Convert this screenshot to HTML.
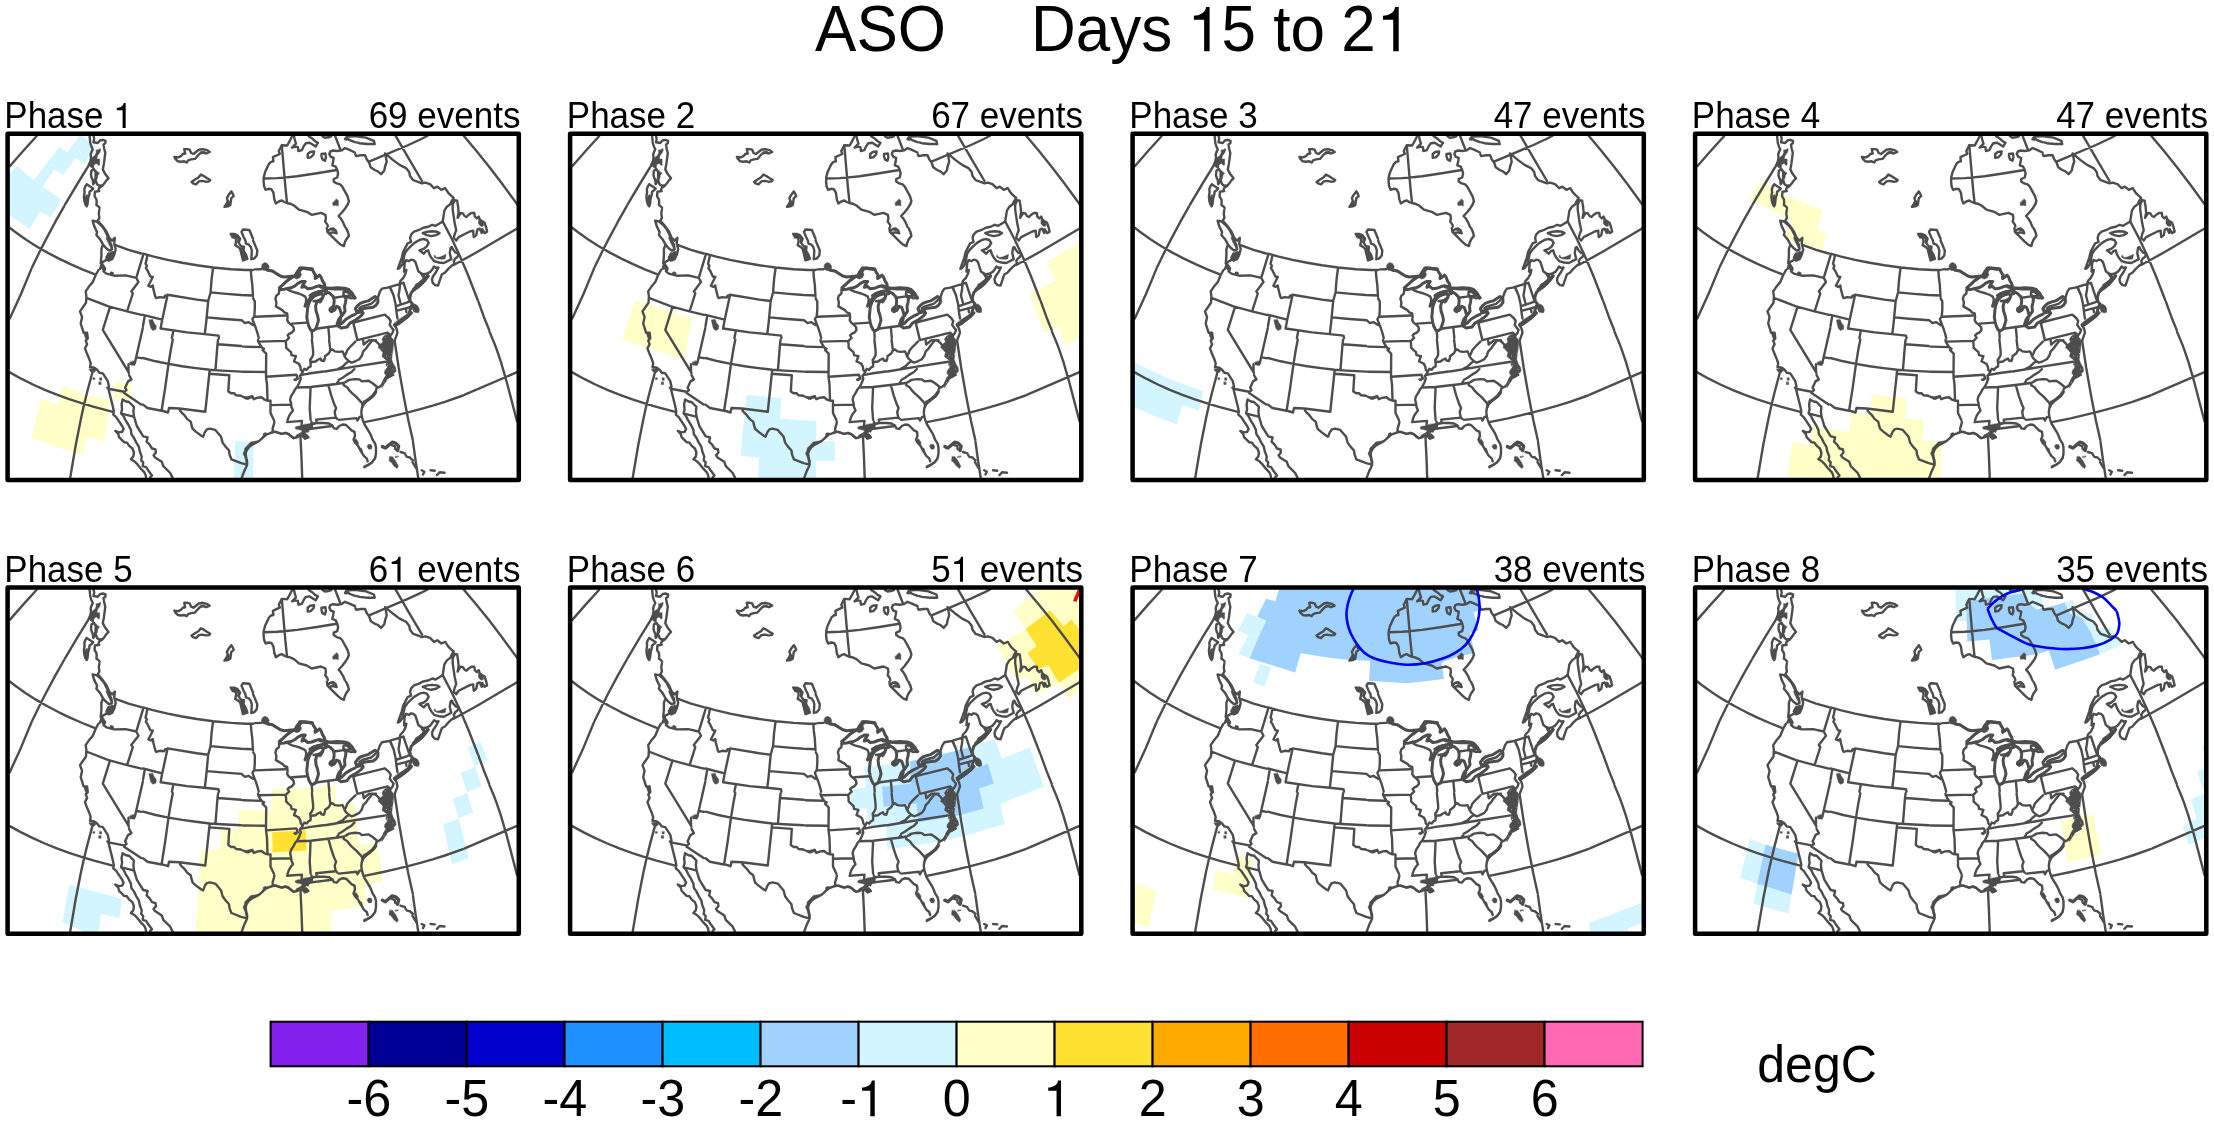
<!DOCTYPE html>
<html lang="en"><head><meta charset="utf-8"><title>ASO Days 15 to 21</title>
<style>html,body{margin:0;padding:0;background:#fff}body{width:2214px;height:1122px}svg{display:block;will-change:transform}text{font-family:"Liberation Sans",sans-serif;fill:#000;font-kerning:none;white-space:pre}</style></head><body>
<svg width="2214" height="1122" viewBox="0 0 2214 1122">
<defs>
<clipPath id="cp"><rect x="0" y="0" width="511.2" height="346.4"/></clipPath>
<g id="map" fill="none" stroke="#4d4d4d" stroke-linejoin="round" stroke-linecap="round">
<path stroke-width="2.4" d="M326.6 164.1 336 162.7 343.8 161.9 M306 167.6 311.9 166.5 M292.9 304 293.9 324.3 294.6 344.2 M295.4 296 324.8 292.3 M387.1 207.6 391.1 234 395.7 260.4 400.8 286.7 405.2 306.3 M356.7 288.5 375.5 284.6 388 281.7 400.4 278.7 412.8 275.4 425.1 271.9 437.3 268.1 455.4 261.8 M114 280 126 283 M435.1 87.7 444.3 105.3 452.7 123.3 460.5 141.6 470.1 166.3 M511.2 93.8 470 118.1 446.1 131.3 M327.6 2.6 333 16.4 M274.2 11.8 277.9 54.6 279.4 68.8 M256.2 44.8 269.6 44.4 276.2 43.9 289.5 42.5 309.3 39.6 329.1 36.3 M81.3 31.4 70.3 49.3 57.4 70.9 M84.7 239 79.5 258.5 76.3 271.6 73.4 284.7 68.2 311.1 62.6 344.2 M470.8 167.9 476.4 183.5 481.6 196.3 M23.9 134.9 13.5 160 2.2 184.8 M2.2 238.7 13.6 245 25.3 250.8 37.2 256.1 49.2 260.9 61.5 265.4 73.9 269.4 86.4 273.2 105.2 278.2 M28.9 2.6 15.3 17.5 2.2 32.5 M56.5 72.6 47.8 88 38.5 105.4 32.5 117.1 24.6 133.4 M2.2 94.1 7.3 98.1 17.8 105.6 28.7 112.5 39.8 118.9 51.3 124.9 62.9 130.4 74.7 135.6 86.7 140.5 M405.4 308.2 408.1 327.8 410.6 343.9 M457.2 261 509.4 238.5 M481.9 198 486.5 208.9 488.9 215.2 493.3 228.2 499 247.8 509.4 287.5 M361.5 28 400.8 11.3 413.7 5.3 420 2 M387.9 2 401.2 24.9 414.4 47.3 M456.1 2 469.1 17.5 481.7 33.2 494 49.3 509.9 71"/>
<path stroke-width="2.4" d="M135.4 120 145.2 122.7 159.9 126.2 174.6 129.1 189.3 131.6 205.5 133.8 223.6 135.5 238.3 136.3 245.4 136.3 M139.8 121.6 138.8 126.7 137.9 130.1 139.3 132 138.3 134.5 139.8 136.5 142.8 142.8 145.2 143.3 140.8 152.1 143.2 153.1 145.2 151.7 145.7 155.1 147.7 162.9 148.6 164.4 152.1 163.4 156.5 163.9 157.5 161.9 159.9 161.5 M159.9 161 189.3 165.9 200.6 167.3 M159.9 161.5 154.5 186.5 153 194.8 179.5 198.7 197.2 200.4 M205.5 133.8 204 145.3 203 158.5 200.6 167.3 198.6 188.4 197.2 200.4 210.9 201.9 211.4 204.3 M135.4 181.1 154.5 186 M165.8 196.8 164.3 204.3 M203 158.7 218.7 160.2 233.4 161.3 245.4 161.8 M200.1 183.7 213.8 185 233.9 186.5 237.4 189.4 240.8 188.4 245.4 191.4 M243.2 136.3 243.7 143.3 244.7 151.2 245.4 162.9 M136.9 183.5 135.4 192.3 M223.1 100.2 226.6 100.2 230 101.7 232.5 105.1 231 109 233.4 112.4 236.4 112.9 235.9 116.8 238.3 120.8 239.8 125.2 235.4 126.7 232.5 114.9 230 112.9 227.6 111.5 228.5 107.5 228 104.1 225.1 103.6 223.1 100.2 M245.4 105.1 241.8 96.3 235.4 95.8 233.9 98.2 235.9 103.1 237.9 107 238.3 110 241.3 111 243.2 113.4 244.2 116.8 243.7 125.7 M319.3 94.3 319.8 98.2 329.6 108 333 111 336.4 112.4 336.9 109.5 338.4 106.1 341.3 102.1 340.3 98.2 338.4 94.3 M245.5 106.8 249.7 116.8 249.2 121.8 246.7 124.7 245.6 125.1 M247.3 135.7 253.6 135.5 M245.7 164.9 247.2 167.8 247.2 175.7 246.7 182.5 M247.2 183 278.1 181.8 M246.7 182.5 244.8 185.5 248.2 194.3 250.1 200.2 251.1 204.3 M271.7 156.1 271.2 160 268.8 161.9 267.8 164.9 268.8 168.8 268.3 172.7 275.1 176.7 276.6 178.6 279.6 179.6 280 183.5 279.6 186.5 281 188.9 283.5 190.9 285.9 193.3 286.4 196.3 284.5 198.7 281.5 200.2 280 201.7 281.5 204.3 M280.5 156.1 284.5 158 291 159.8 295.2 161.5 297.7 162.9 298.7 165.9 298.2 168.8 297.2 172.7 M305 160 306 159.5 310.9 158 315.8 157 318.8 157 M335.9 158.5 339.4 158 342 160.7 342.3 161 341.3 163.9 337.4 162.9 335.9 161 335.9 158.5 M305 197.2 309.9 194.8 328.6 192.3 M320.7 193.3 321.7 204.3 M284.5 189.9 299.2 188.9 M304.1 197.2 304.6 204.3 M351.7 174.5 354.7 172.6 363.5 170.1 366.4 167.7 367.9 166.2 M370.3 163.8 372.3 157.9 374.3 154.9 380.1 153.9 395.8 149.2 M391.9 150.5 392.9 147.1 395.8 144.1 397.8 140.2 398.8 136.3 M382.6 154.4 386 161.8 388 170.6 389 179.4 389.9 184.8 M392.4 151 391.9 155.9 390.9 161.8 392.9 169.6 M395.8 149 401.2 165.2 M389.5 172.1 399.8 168.7 401.7 167.7 M389.5 177 398.8 174.5 401.7 173.6 M398.3 175 398.8 178.5 M387 191.2 389 195.1 389.9 199 387 206.9 M381.1 184.3 383.1 187.3 382.1 191.2 384.1 194.1 386 196.1 385 199 383.1 201.5 382.1 203.9 M345.8 189.7 347.8 188.3 377.2 180.9 381.1 184.3 M345.8 189.7 349.8 206.4 380.1 199 382.1 201 M321.5 206.1 322.8 216.7 M347.8 207.9 341.9 213.8 339.5 216.7 338.5 219.6 337 222.6 335 217.7 331.1 218.2 327.2 217.7 324.8 215.7 322.8 216.7 321.3 219.6 317.4 222.6 M337 222.6 338.5 225 341.4 227.5 343.9 228.9 346.8 228 351.7 225.5 354.2 222.1 355.6 217.7 358.6 214.7 360.5 211.8 363 208.8 364.5 206.4 M330.1 235.3 335 232.9 338.5 229.4 341.4 227.5 M355.6 206.9 356.1 210.8 361.5 206.4 365.4 206.9 368.4 206.4 M364.5 206.4 367.4 206.9 370.3 209.3 372.3 211.8 M317.4 237.8 346.8 232.9 378.2 228 M346.8 235.3 343.9 238.3 339 241.2 335 244.1 331.1 246.3 M346.8 164.2 342.9 164.7 M250.4 206.2 250.6 207.7 252.1 210.6 254.5 214 256.5 215 255 216.5 258.6 219.9 258.4 243 259.4 250.8 259.9 266.5 M251.1 207.9 278 207.2 M235.4 212.9 253 213.4 M235.4 238.1 258.4 238.3 M258.4 243 288.8 241 289.8 243.5 288.3 246.4 286.9 245.9 290.3 244.9 M235.4 263.1 240.3 265 244.7 262.6 246.2 265.5 250.1 264 254 263.6 257 266 259.9 267 262.9 267 262.9 279.2 266.3 286.3 M262.9 271.4 282.9 270.9 M280.2 205.4 278 207.7 278.5 210.6 278.5 214 281 216.5 283.4 218.5 283.9 221.4 288.3 222.4 286.4 227.8 288.8 228.8 291.3 230.2 292.8 233.2 293.2 236.1 295.2 238.1 293.7 240.5 292.3 242 293.2 244.9 291.8 248.8 289.8 252.8 287.4 255.7 285.9 258.7 283.4 262.6 282.5 266 283.4 269.4 283.9 273.4 285.4 276.8 283.4 279.2 281.5 282.2 280 286.3 M304.3 205.9 305.5 217.5 305.5 221.4 304 224.3 302.6 226.3 303 229.7 M295.2 238.1 296.7 235.1 299.1 236.1 300.6 234.1 303 232.7 303 229.7 304 228.3 307.9 227.8 309.9 226.3 312.9 224.8 313.8 226.8 316.3 227.3 317.3 224.3 M294.2 241.2 303 239.5 315.8 237.8 M290.3 253.8 303 253.3 328.7 250.3 336.6 249.1 M328.7 250.3 330.6 247.9 M303 253.3 302.1 274.3 303 286.3 M320.7 251.3 323.6 261.6 326.6 270.4 328.5 274.3 327.1 278.3 328 283.2 329.5 285.1 M210.5 205.9 209.9 210.6 207.9 235.6 M165.2 205.9 163.3 215.5 160.9 230.2 157.5 254.7 154 276.8 M135.4 224.3 148.1 227.6 160.9 230.2 174.6 232.5 188.3 234.4 202.1 236.1 213.8 236.9 233.6 237.9 M210.4 210.6 233.5 212.3 M202.1 236.3 197.7 277.8 M201.6 240 221.7 241.5 220.7 257.7 223.6 259.6 226.6 259.6 228.5 261.6 233.4 262.1 233.7 262.4 M154 276.8 160.4 278.8 161.4 274.3 171.7 274.8 197.7 278.1 M135.4 270.9 139.8 274.3 154 277.1 M266.7 288 266.8 288.4 266 291.8 265 294.7 265.2 297.7 M279.7 288 279.5 288.4 294.4 287.2 293.9 291.3 294.9 293.3 M303.9 288 304.2 292.3 M195.4 303.1 197.4 298.2 199.3 295.7 202.3 295 207.7 296.2 213.5 303.1 215 308.9 217.9 312.9 221.4 316.8 221.9 320.7 223.8 325.6 233.6 329.5 239.5 331 M234.1 344.2 236.6 337.4 238.5 333.5 239.5 331 239.5 327.6 238.5 323.7 238 319.7 239 316.8 241 313.8 243.9 311.4 251.3 307.5 254.2 305 256.7 302.6 259.1 300.6 262.1 299.6 265.2 298.2 267.9 298.2 273.8 300.1 277.8 299.1 280.7 300.1 286.1 304.5 289.5 303.6 292.5 302.1 296.4 303.1 299.3 302.1 300.8 303.6 297.4 305 M331.2 286.2 348.8 284.4 349.8 286.9 351.8 283.5 354.2 282.5 M309.1 289.3 308.6 285.9 327.8 283.9 M338.2 248.2 341.5 246.2 347.4 245.4 351.8 245.7 354.2 247.7 361.1 247 365 249.6 369.9 253.6 M336.2 250.9 336.1 251.6 339.5 253.6 342 257 344.4 259.4 348.7 263.2 354.7 269.7 M385.6 241.3 380.7 243.3 376.8 246.2 374.8 250.6 371.9 253.1 368.9 254.5 367.9 258.5 365.5 261.9 362.1 264.8 358.1 267.8 355.2 270.7 354.2 274.6 353.7 278.6 354.2 282.5 355.2 286.4 356.7 290.3 362.1 299.1 363.5 302.1 365 306 367.5 309.9 368.4 313.8 368.4 319.7 367.5 324.6 364.5 328.6 361.1 331 356.7 333.5 M360.1 327.6 359.1 324.6 356.2 322.2 354.2 318.8 352.3 315.8 350.3 311.9 347.4 308.9 345.9 306 347.4 302.1 346.9 298.2 343.9 296.7 338.5 291.3 335.1 290.8 331.7 292.3 329.2 295.2 326.3 294.7 324.8 291.8 321.4 289.8 316.5 289.3 309.1 289.3 305.2 290.3 300.3 292.3 295.4 292.8 M390 316.8 387.6 315.3 387.1 312.4 384.1 311.4 M392.9 318.3 397.4 319.7 M397.9 321.2 399.3 323.2 402.3 323.8 M403.2 324.6 405.4 326.6 M99.8 254 100.8 255 116.5 258 M121.4 241.3 123.8 245.7 120.4 247.7 117.5 254 118.9 256.5 116.5 258.5 M116.5 259.4 133.5 270.7 M172.4 276.8 173.8 278.6 176.8 281.5 179.7 285.4 183.1 287.9 184.1 292.3 185.1 295.2 188.5 298.2 193.7 302.1 M100.8 255 105.2 272.7 106.2 277.6 105.7 281 108.6 283.5 114.5 292.3 116 295.2 114.5 298.2 111.1 298.7 107.7 297.2 110.6 300.1 111.6 303.6 116.5 308.5 119.4 308.9 121.4 311.9 124.8 314.8 126.3 318.8 125.8 322.7 123.3 325.6 126.8 327.6 129.7 330.5 132.7 334.4 136.6 338.4 138 341.3 138.5 344.2 M115 265.8 114 270.7 114.5 275.6 113.5 279.5 116 282.5 117.9 286.4 120.9 291.3 123.3 296.2 123.8 300.6 126.3 304 128.7 308.9 131.2 312.9 132.2 317.8 134.1 322.7 133.6 326.6 135.6 328.6 135.1 332.5 138.5 333.5 141 337.4 144.4 341.8 142.5 343.8 M115 265.8 118.4 267.8 121.4 268.3 126.3 273.2 125.8 277.6 126.3 282.5 129.2 292.3 135.6 302.6 140 303.6 139 308 142 310.9 144.4 314.8 147.9 315.8 148.3 318.8 145.9 321.7 147.4 323.7 154.2 328.1 155.7 332.5 162.6 339.3 165 344.2 M438.8 56.3 440.7 59.2 443.2 61.7 446.1 64.1 444.2 67.1 442.7 70.5 439.3 73 436.8 76.9 435.1 87.7 431.4 90.1 428 92.1 424.6 91.1 420.6 93.1 415.7 94 410.8 96.5 406.4 98 403.5 100.9 402.5 104.3 403.5 108.3 400 109.7 395.6 118.1 394.2 123.9 390.2 135.2 392.2 134.2 394.7 130.8 396.1 124.9 397.1 120 399.6 116.1 403.5 112.2 406.9 109.2 411.8 106.3 415 105.5 415.7 105.3 419.2 106.3 421.1 109.2 419.2 112.7 416.2 115.1 411.8 116.6 416.2 120 418.7 117.1 420.6 116.6 421.6 120 423.6 123.9 426.5 127.4 431.4 128.8 436.3 129.3 443.7 125.4 442.7 122 442.2 119 443 114.1 444.2 113.2 445.6 116.1 448.1 119 451 120 450 123 447.6 124.9 446.1 127.4 447.1 129.8 443.7 132.3 440.2 135.7 437.3 139.1 434.4 140.6 433.4 143.1 430.4 151.9 427.5 151.4 425 148.9 424.4 145.5 425.5 142.6 428 139.1 430.9 133.8 428.5 134.2 426.5 132.8 424.6 135.7 422.6 138.2 419.2 140.1 415.7 140.6 412.8 139.1 M412.8 139.1 410.8 137.7 407.9 128.4 405.9 126.4 403.5 125.9 401.5 127.4 398.6 126.4 397.1 129.3 396.4 137.9 M412.8 139.1 415.2 141.6 416.7 143.7 M415.2 99.4 419.7 98 424.6 97.5 429.5 98 431.9 99.4 428.5 101.4 423.6 102.4 419.2 101.4 415.2 99.4 M447.1 66.6 449.6 67.1 449.8 68.7 450.5 73 451 78.8 450 84.2 453 79.3 455.4 79.8 456.9 82.3 458.9 83.3 460.8 81.3 463.8 79.3 466.7 79.3 467.2 82.8 469.2 84.7 471.1 82.8 472.1 85.7 474.6 87.7 477 89.1 478.5 93.6 479.5 98 477 99.4 474.6 95.5 474.1 99.4 472.1 95 469.7 96 468.7 101.4 466.2 103.4 465.7 99.4 465.7 97 462.8 97.5 451 103.4 448.6 106.8 446.1 104.3 447.1 100.4 448.6 96.5 447.1 89.6 445.1 75.9 445.1 71 447.1 66.6 M284.5 2.6 282 7.5 279.6 11.8 274.2 11.5 271.2 17.3 272.2 20.3 268.8 21.8 265.3 23.5 265.8 27.6 263.4 28.1 261.4 30.1 257.5 38.4 256.2 43.3 256 47.7 256.5 52.6 258 56.1 260.9 55.1 263.9 55.6 265.8 59 266.8 65.9 268.3 69.8 271.2 67.8 274.2 66.7 276.6 68.3 279.1 69.3 282.5 70 286.4 71.8 291.3 76 299.2 78.1 304.1 81.1 313.4 79.1 317.8 81.1 318.3 84.5 317.6 87.9 319.8 90.9 320.2 92.7 M337.3 93 335.4 88.4 333 84.5 331 82.3 334.5 78.6 337.9 74.2 340.3 70.3 341.3 67.3 339.9 62.4 334.5 52.6 332.5 50.7 329.1 49.7 326.1 47.7 326.1 45.3 329.6 43.8 330.5 39.9 329.6 36 328.1 33 324.7 31.6 325.6 27.6 326.1 24.2 323.2 23.2 321.7 20.3 322.7 17.8 325.6 16.8 329.6 17.3 334 16.7 337.4 14.4 341.3 15.9 347.4 18.8 M339.4 3.1 341.3 6.1 347.4 8.5 M286.4 2.6 287.4 7 288.4 10 284.5 13.9 287.9 12.9 290.3 13.4 290.8 17.3 294.3 16.4 296.2 12.4 298.2 9.5 302.1 9 308 12.9 310.4 9 307.5 7.5 305 5.1 301.1 2.6 M314.9 2.6 317.3 4.1 320.7 3.6 323.7 2.6 M300.1 20.3 302.6 18.3 306.5 17.8 306 20.8 303.1 23.7 300.1 24.2 300.1 20.3 M313.9 20.3 317.8 19.8 318.3 23.7 317.3 27.1 314.9 25.7 313.9 22.7 313.9 20.3 M320.7 97.2 322.7 95.3 325.6 94.8 328.1 96.8 329.1 99.7 325.6 98.7 323.1 99.1 M166.8 23.2 170.7 23.7 173.7 22.2 175.1 20.3 177.6 19.8 176.6 15.4 179.6 15.4 182 15.9 183.5 19.3 185.9 20.3 191.3 16.1 195.2 15.4 199.2 16.4 202.1 18.3 198.7 19.8 195.2 18.8 192.3 19.8 189.9 22.2 187.4 25.2 183.5 25.7 180.5 26.7 179.1 28.8 176.6 27.6 173.2 28.1 170.2 27.6 167.8 25.2 166.8 23.2 M184 48.2 187.4 45.8 190.8 43.8 193.3 40.9 196.2 42.3 199.2 44.3 202.6 46.3 201.6 47.7 198.2 48 194.8 47.2 191.3 47.7 188.4 50.7 185.4 49.7 184 48.2 M223.7 57.8 225.1 60 226.1 62.4 223.7 64.4 222.7 71.3 220.2 72.7 216.8 73.2 218.8 70.3 220.2 67.3 219.3 64.4 221.2 61 223.7 57.8 M82 2.1 82.7 9.3 83.8 12.8 85.2 15.7 84.1 17.8 83.1 20.7 83.4 24.2 82.7 27.8 81.3 31 M85.9 2.1 86.6 5 85.9 8.6 90.2 9.3 92.3 6.8 95.2 6.1 98 7.1 97.7 9.6 95.9 10.7 96.6 15 97.7 19.3 96.3 30 95.2 35.7 97.3 39.9 100.9 44.6 98.8 46.7 96.6 49.9 94.5 52.4 91.6 54.2 90.9 56.3 91.6 57.4 87.3 58.1 87 62.7 88.8 65.6 89.1 68.5 88.8 71.3 90.9 72.7 92 74.3 M83.8 37.1 83.4 41.4 84.1 44.2 85.2 46.3 85.6 50.6 87 48.5 87.9 44.2 88.1 38.5 86.3 35.3 83.8 37.1 M88.1 46.7 89.5 50.6 91.6 52.1 94.5 51.7 M79.1 50.6 85.6 54.9 83.8 56.7 82 58.1 81.6 61.3 80.6 64.5 79.9 70.6 79.1 72.7 77.7 70.6 76.7 67 76.3 62.7 77 58.5 76.7 55.6 77.7 52.8 79.1 50.6 M90.9 136.3 88.1 141.3 85.2 148.4 81 153.4 78.1 157.7 78.8 162.7 78.4 169.1 72.4 177.7 74.5 183.4 73.1 189.8 76 199 79.5 199 80.2 204.7 78.1 206.9 79.5 210.5 77.4 214.7 79.5 220.4 81.7 225.4 83.1 229.7 82.4 233.3 86.7 234 89.5 236.1 91.7 239 95.2 239.7 100.2 247.5 101.4 253 M78.8 164.1 100.9 172.7 119.5 177.7 133.8 181.2 M95.9 137.7 98.8 139.9 106.6 142 118 141.7 128.7 144.1 130.9 148.4 123.7 157.7 125.2 159.8 119.5 177.7 M102.4 173.1 95.2 196.2 120.9 238.3 M135.2 194.3 127.3 229 M120.9 230.4 120.9 238.3 121.3 239.3 M129.4 223.6 133.7 224.5 M91.7 76.2 91.2 79.9 91.8 84.1 90.2 87 M85 87 86.7 92.7 89.5 98.4 88.8 101.3 92.4 105.5 95.2 110.5 98.1 114.1 101.6 116.9 104.5 115.5 103.8 111.2 101.6 107 99.5 101.3 96.6 95.5 93.1 91.3 88.8 87.7 85 87 M90.2 87 95.2 92.7 98.8 97.7 101.6 104.1 104.5 107 107.3 104.1 106.6 109.8 108.1 115.5 106.6 121.2 104.5 125.5 100.9 126.9 98.8 124.1 100.9 119.8 M107.3 111.2 120.9 116.2 133.6 119.8 M95.2 111.2 93.8 115.5 93.8 122.6 93.1 129.8 95.2 131.2 97.4 134.8 97.1 136.2 M95.6 135.8 93.8 131.2 92.5 135.1 M98.8 126.2 95.2 128.3 93.8 131.2 M103.4 139.1 103.8 139 105.2 139.6 M135.4 122 129.2 142.5 M404.9 328.4 408.5 334.5 M414.1 336.6 416.8 338 415.4 340.7 M423 336.6 427.2 337 M429.3 341.4 432 338.6 436.9 339.1 M347.7 20.6 348.6 22.4 353.4 21.6 357.5 21.6 359.1 25.6 361.5 28.8 363.1 33.6 367.1 36.3 370.3 37.6 373.5 40.5 376.7 36.8 377.5 32.8 379.1 28 378.3 23.2 377.5 19.7 385.5 26.4 392 31.2 398.4 34.4 401.6 38.4 402.4 42.4 405.6 46.5 410.4 48.1 414.4 49.7 417.6 48.9 422.4 50.5 426.5 54.5 429.7 52.9 433.7 56.1 437.7 54.5 438 54.7 M337.4 5.5 339 3.1 347 2.3 358.3 3.9 366.3 7.1 367.1 10.3 359.9 10.3 351.8 9.5 349.2 8.7 M338.9 5.9 337.4 5.5"/>
<path stroke-width="3.0" d="M259.9 136.5 264.9 137.4 272.7 142.3 276.6 143.3 286.4 142.3 M271.7 154.1 275.6 150.7 279.6 146.8 283.5 144.3 287.4 142.3 289.4 138.4 292.3 134.5 296.2 134.5 304.6 135.5 306 138.4 308 141.4 307.5 144.8 309.9 143.3 311.9 141.4 313.4 143.3 314.9 147.2 316.8 150.2 317.3 153.1 M271.7 156.1 276.6 155.6 280.5 154.6 283.5 154.1 287.4 152.1 290.3 149.7 294.3 147.7 297.7 147.7 295.2 151.2 294.3 153.6 297.2 152.6 300.1 155.1 304.1 154.6 308 153.1 311.9 152.1 315.8 153.1 317.3 153.1 M300.1 173.7 299.2 183.5 300.1 188.4 301.1 192.3 303.1 196.3 305 197.2 308 195.3 309.5 191.4 310.9 186.5 309.9 181.6 308.5 177.6 308 172.7 309 168.8 311.9 166.8 314.9 164.4 315.8 161.9 313.9 160 309.9 161 306 162.9 304.1 164.9 302.1 167.8 300.6 171.8 300.1 173.7 M318.8 158 322.7 160 325.6 162.9 326.6 166.8 326.1 171.8 323.7 174.7 326.6 176.7 329.1 172.7 331.5 173.7 333 177.6 334 181.6 332.5 185 330.5 188.4 329.6 191.4 M336.4 161.9 338.4 164.9 337.9 168.8 336.9 172.7 337.4 177.6 334 182.5 M330.5 191.4 334.5 189.4 338.4 185.5 343.3 182.5 347.4 180.6 M330.5 192.3 333.5 194.3 339.4 193.3 342.3 189.4 347.4 186.5 M317.4 159.8 318.5 160.1 M322.4 176.1 322.3 176.5 324.3 178 324.9 177.5 M348.8 185.6 350.7 184.3 353.7 181.9 355.6 179.4 354.7 178 351.7 178.5 348.8 179.4 M348.8 177.5 347.8 175 349.8 172.1 352.7 169.6 356.6 168.2 360.5 167.2 367.4 162.8 370.3 165.2 370.3 168.7 368.4 171.6 365.4 173.6 357.6 174.5 354.7 175.5 351.7 177 348.8 177.5 M420.3 142.2 417.4 146.1 414 150 410.5 153 406.6 155.9 403.7 158.8 402.2 163.8 402.7 167.7 404.7 170.1 402.7 175.5 401.7 179.4 399.8 182.4 395.8 185.3 392.9 188.3 389.9 190.2 387 191.2"/>
<path stroke-width="3.4" d="M292.3 134.5 296.2 134.5 301.1 135 304.6 135.5 M302.6 161.9 306 159.8 310.9 158.2 315.8 157.2 318.8 157.2 M312.9 153.1 320.7 154.6 327.6 155.1 334.5 155.1 339.9 156.3 343.8 160 347.4 164.1 M317.4 154.4 323.3 154.7 330.1 154.2 337 154.7 340.9 155.9 344.9 160.3 346.8 164.2 M420.3 142.2 417.4 146.1 414 150 410.5 153 407.1 155.4 M387.5 191.7 391.9 189 396.8 185.3 400.7 182.2 403.5 179.4 M367.9 258.5 365.5 261.9 362.1 264.8 358.1 267.8 355.2 270.7 M374.8 312.9 377.8 314.3 381.2 311.4 384.6 308.5 388 309.4 391 312.4 390 316.8 M415.2 141.6 416.9 144 415.7 147 411.8 149.9 408.9 152.9 405.9 155.8"/>
<path stroke-width="0.5" fill="#4d4d4d" d="M141.3 186.5 142.2 190.5 143.2 194.5 145.3 196.9 148.3 195.5 148.7 192.2 146.2 188.9 146.2 188.9 146.2 188.8 146.2 188.8 145 185.8Z M224.6 101 225.3 103.1 228.1 103.6 228.1 103.6 228.2 103.6 228.2 103.6 228.2 103.7 228.2 103.7 228.3 103.7 229.9 105.4 229.9 105.4 230 105.4 230 105.4 230 105.5 230 105.5 230 105.5 230 105.5 230 105.6 230 105.6 229.8 108.7 231.1 108.7 232.3 105.3 230.1 102.4 227 100.9Z M233.6 113.3 233 115.1 233.9 118.7 234.9 122.5 236 125.9 239.1 124.7 237.9 121.1 235.5 117.2 235.5 117.2 235.5 117.1 235.5 117.1 235.5 117.1 235.5 117.1 235.5 117 235.5 117 235.9 113.7Z M253.9 133 254.3 135.3 256.1 136.7 258.9 136.9 261.1 135.3 261.6 132.6 259.8 129.8 257 128.9 254.8 130.3Z M260.7 135.8 260.3 137.2 264.4 138.3 264.5 138.3 264.5 138.3 264.5 138.4 268.4 140.9 272.8 143 276.3 143.9 276.3 142.6 273.1 141.6 273.1 141.6 273 141.6 273 141.6 269.1 139.2 265.2 136.7Z M286.7 142.4 287.2 144.6 289.3 145.4 292.1 144.1 293.9 141.3 293 138.5 293 138.5 293 138.5 293 138.4 293 138.4 293 138.4 293 138.3 293 138.3 293 138.3 293 138.3 293 138.2 295 135.8 295.8 134 292 134.3 288.6 139.1Z M306.4 143 307.6 145.8 309.6 144.7 308.3 142.2Z M272.1 153.7 272.8 155.1 276.4 151.4 276.4 151.4 280.3 148 280.4 148 284.1 145.2 283.4 144.2 279.7 146.5 275.8 150.4 275.8 150.4Z M296.6 172.7 297.7 173.8 298.9 172.6 300.9 168.7 302.8 164.3 302.8 164.3 302.8 164.2 302.9 164.2 302.9 164.2 305.6 161.4 305 160.4 302.8 161.7 300.4 165.1 298 168.9Z M310.8 166 311.2 167.7 312.1 169.8 314.1 168.6 316 164.5 314.8 163.3Z M322.2 174.4 322 176.6 323.3 178.2 325.4 177.4 325.8 174.8 324.1 173.1Z M329.8 185.6 328.9 192 330.9 192 332.7 188.8 334.1 185.4 333.7 182.4 331.7 182.8Z M321.6 174.3 321.4 176.4 322.5 178.6 324.5 178.2 325.4 175.6 323.7 173.4Z M328.5 189.8 328.9 193.3 331.4 192.9 333.3 189.1 334.2 185.4 333 183.8 330.4 185.5Z M382.1 154.4 385.7 161.4 386.2 161.1 383.9 154.3Z M420.3 141.8 418.6 144.3 418.6 144.3 414.7 148.8 414.7 148.8 414.6 148.8 410.7 151.7 410.7 151.8 410.7 151.8 410.6 151.8 410.6 151.8 410.6 151.8 410.5 151.8 410.5 151.8 410.5 151.8 408.1 151.4 408.8 153.2 410.5 154.1 414.3 151.3 417.7 147.4 421 143.1Z M404.9 170.9 404 173.1 404.9 175.4 406.3 178.2 409.1 179.1 411.3 178.7 411.7 175.6 410.3 172.3 407.5 170.4Z M386.4 190.8 387.6 192.8 389.8 191.9 393.2 189.5 393.2 189.5 397.6 186.6 401.5 183.2 403.8 180 402.7 178.9 399 181.6 398.9 181.6 394 185.1 394 185.1 389.2 188Z M376.2 202.6 374.4 205.4 375.3 208.2 375.3 208.2 375.3 208.2 375.3 208.3 375.3 208.3 375.3 208.3 375.3 208.3 375.3 208.4 375.3 208.4 375.3 208.4 375.3 208.4 375.3 208.5 375.2 208.5 375.2 208.5 371.4 211.4 370.5 214 372.8 215.9 372.8 215.9 372.8 215.9 375.3 218.9 375.3 218.9 375.3 218.9 375.3 218.9 375.3 219 375.3 219 375.3 219 375.3 219 375.3 219.1 375.3 219.1 375.3 219.1 374.4 222.9 376.7 224.7 379.2 226.7 379.2 226.7 379.2 226.7 379.2 226.7 379.2 226.7 379.2 226.8 379.3 226.8 379.3 226.8 379.3 226.8 379.3 226.9 379.3 226.9 379.3 226.9 379.3 227 378.3 230.8 379.7 233.6 379.7 233.6 379.7 233.7 379.8 233.7 379.8 233.7 379.8 233.8 379.8 233.8 379.8 233.8 379.7 233.8 379.7 233.9 379.7 233.9 379.7 233.9 379.7 233.9 377.3 236.8 376.8 239.6 378.2 241.4 378.2 241.4 378.3 241.5 378.3 241.5 378.3 241.5 378.3 241.5 378.3 241.6 378.3 241.6 378.3 241.6 378.3 241.7 378.3 241.7 378.3 241.7 378.3 241.7 378.2 241.8 376.3 244.7 375.3 247.6 375.3 247.6 375.3 247.6 375.3 247.6 373.8 249.9 375.9 249.2 379.7 245.3 379.8 245.3 379.8 245.3 379.8 245.2 383.7 243.3 385.6 240.4 385.6 240.4 385.6 240.4 388.5 237.6 388 233.9 385.6 230 385.6 230 385.6 229.9 384.1 226 384.1 226 384.1 226 384.1 225.9 384.1 225.9 384.1 225.9 384.6 221 384.6 221 385.5 215.1 386 209.2 385.5 205.5 383.7 203.6 383.6 203.5 381.7 201.2 379.5 200.3Z M386.2 190.2 387.4 193 390.8 190.8 395.7 187.3 401.5 182.9 405.2 178.7 403.5 177.7 397.8 181.5 397.8 181.6 390.9 186Z M236 263.3 238 265.7 241.2 264.7 241.2 264.7 241.2 264.7 245.1 264.3 245.1 261.5 239.4 262.9 239.4 262.9Z M239.3 330.3 239.7 327.6 238.7 323.7 238.7 323.7 238.2 319.8 238.2 319.7 238.2 319.7 238.2 319.7 238.7 316.7 238.7 316.7 238.7 316.7 238.8 316.7 238.8 316.6 240.7 313.7 240.8 313.7 240.8 313.6 240.8 313.6 243.7 311.2 243.8 311.2 243.8 311.1 247.2 309.2 247.2 309.2 251.1 307.2 251.6 306.8 248.5 307.3 243.1 308.2 239.4 312.2 239.4 312.2 237.2 314.4 236.7 317 236.7 317.1 236.7 317.1 235.4 319.7 237.1 323.5 237.2 323.6 237.2 323.6 238.4 329.4Z M253.7 305.1 254 304.8 256.5 302.4 256.5 302.3 259.2 300.1 258.4 298.9 255.8 299.6 255.3 302.5 255.3 302.6 255.3 302.6 255.3 302.6 255.3 302.6Z M262.8 299.5 264 299.8 267.9 299 267.9 299 267.9 299 268 299 268 299 268 299 271 299.8 271 299.8 273.9 301 277.7 300.3 277.7 300.3 277.8 300.3 277.8 300.3 277.8 300.3 277.8 300.3 280.8 301.3 280.8 301.3 280.8 301.3 280.9 301.3 280.9 301.4 280.9 301.4 283.3 303.8 286 305.2 287.5 303.7 287.2 303.9 287.2 303.9 287.2 303.9 287.1 303.9 287.1 304 287.1 304 287 304 287 303.9 287 303.9 287 303.9 286.9 303.9 286.9 303.9 284.5 302.4 284.4 302.4 284.4 302.4 281.5 300 278.7 298.6 274.9 299.5 274.9 299.5 274.8 299.5 274.8 299.5 274.8 299.5 274.7 299.5 271.3 298.5 271.3 298.5 268.4 297.3 265.3 297.6Z M287.5 293.9 288.2 295.4 291 295.9 291.1 295.9 294.5 296.9 294.5 296.9 294.6 296.9 294.6 296.9 294.6 296.9 294.6 297 294.6 297 294.7 297 294.7 297 294.7 297.1 294.7 297.1 294.7 297.1 294.7 297.2 294.7 297.2 294.7 297.2 294.7 297.2 294.7 297.3 294.7 297.3 294.7 297.3 294.7 297.3 294.7 297.4 294.6 297.4 292.7 299.4 292.6 299.4 292.6 299.4 292.6 299.4 288.8 301.3 287.6 303.6 289.4 303.3 293.3 300.8 293.3 300.8 293.3 300.8 293.4 300.8 293.4 300.8 293.4 300.8 293.4 300.8 293.5 300.8 293.5 300.8 293.5 300.8 293.6 300.8 293.6 300.8 293.6 300.9 293.6 300.9 293.7 300.9 293.7 300.9 295.6 303.3 297.9 305.2 300.5 304.3 300.9 302.7 299.2 301.4 297.2 300.4 297.2 300.4 297.2 300.4 297.2 300.3 297.1 300.3 297.1 300.3 297.1 300.3 297.1 300.2 297.1 300.2 297.1 300.2 297.1 300.2 297.1 300.1 297.1 300.1 297.1 300.1 297.1 300 297.1 300 297.1 300 297.1 300 297.1 299.9 297.1 299.9 297.2 299.9 297.2 299.9 299.1 298.4 299.2 298.4 299.2 298.4 299.2 298.4 299.2 298.4 299.3 298.4 299.3 298.4 299.3 298.4 299.4 298.4 299.4 298.4 299.4 298.4 300.6 298.8 302 296.1 302 296 302 296 302 296 302.1 296 302.1 296 302.1 295.9 302.1 295.9 302.2 295.9 302.2 295.9 302.2 295.9 305.1 295.5 305.1 292 301.3 291.1 297.4 291.8 297.4 291.8 293.5 292.1 289.6 292.6Z M384 241.6 381.8 241.6 378 244 376.5 246 376.6 246 380.5 243 380.5 243 380.6 243 380.6 243Z M356.8 333.1 361 331.7 365.3 328.8 368.1 324.5 368.5 320.8 367.7 321.8 366.3 325.7 366.3 325.7 366.2 325.8 366.2 325.8 366.2 325.8 363.3 328.8 363.2 328.8 363.2 328.8 363.2 328.8 359.3 330.8 359.2 330.8 356.1 332.1Z M346.3 306.2 347.6 308.8 350.2 311.3 351 309 348.7 305.4Z M352.5 315.7 354.3 318.3 354.9 317.7 354 314.6 352.2 314.2Z M295.7 291.1 295.7 293.4 300.2 292.5 305.1 290.5 305.1 290.5 308.4 289.3 307.1 288.7 301.4 290.1 301.3 290.1Z M295.7 299.5 295.7 304.8 296.4 305.2 299.6 304.7 300.9 302.6 299.2 300.4Z M359.5 312.9 361.2 315.5 363.8 315.3 364.5 312.9 363.4 310.7 360.8 310.7Z M381.9 323 381.5 327.4 383.3 328.3 383.3 328.3 383.3 328.3 383.3 328.3 383.4 328.4 383.4 328.4 386.3 332.3 389.4 334.9 390.7 332.5 388.3 327.7 384.9 323Z M387.4 323.1 387.4 323.8 390.7 323.2 390.7 322.6Z M378.6 246.4 376.5 248.9 375.1 252.3 375.1 252.3 375.1 252.4 373.9 253.8 374.6 253.8 376.5 250.6 376.5 250.5 378.9 247.2Z M368.1 257.1 366.8 260.6 366.7 260.6 366.7 260.7 366.7 260.7 366.7 260.7 366.7 260.7 363.3 263.7 360.7 266.3 361.5 266.6 364.3 264.2 367.2 261.3 368.6 257.7Z M355.5 267.2 354.7 273.6 355.6 274.2 356.9 270.7 356.9 270.7 356.9 270.6 356.9 270.6 357 270.6 359.8 267.8 359.4 266.7Z M416.4 144.6 414.9 145.3 411 148.7 411 148.7 411 148.7 407.7 150.6 406.5 154.8 411.6 149.7 411.6 149.7 415.5 146.8Z M427 121.5 426.4 122.1 426.8 123.7 429.5 125.1 434.4 125.6 437.5 125.2 438 122.9 438.4 120.6 436 121.8 435.9 121.8 432.5 123.2 432.5 123.3 432.5 123.3 432.4 123.3 429 123.8 429 123.8 429 123.8 428.9 123.8 428.9 123.7 428.9 123.7 428.8 123.7 428.8 123.7 428.8 123.7 428.8 123.7 428.8 123.7 428.7 123.6Z M470.9 86.2 470.9 90 472.8 92.3 474.9 92.7 476.2 91.5 475.3 88.8 472.9 87Z M325 69.4 325.4 71.9 328.5 71.5 328.6 71.5 328.6 71.5 328.6 71.5 328.7 71.5 328.7 71.5 330.7 72.3 330.7 67 329.1 65.3Z M323.5 96.4 325.2 97.4 326.9 97.4 325.5 96.1Z M192.9 18 193.4 18.7 196.2 18 196.2 18 197.7 17.8 196.2 17.4Z M220.9 67.2 219.8 70.1 219.8 70.1 219.8 70.1 218.4 72.4 220.1 72.2 221.9 71.1 222.2 67.6Z M88.4 16.6 88.7 18.5 88.7 18.5 88.7 18.6 88.7 18.6 88.7 18.6 88.7 18.6 87.6 21.5 87.6 21.5 87.6 21.6 87.6 21.6 87.6 21.6 87.5 21.6 87.5 21.6 84.7 23.7 83.3 27.2 83.3 27.2 81.6 30.7 82.6 33 84.6 34.6 86.3 34 86.3 31.4 86.3 31.3 86.3 31.3 86.3 31.3 86.4 31.3 86.4 31.2 86.4 31.2 86.4 31.2 86.4 31.2 86.4 31.1 86.5 31.1 88.6 29.7 88.6 29.7 88.7 29.7 88.7 29.7 88.7 29.7 88.7 29.7 88.8 29.7 88.8 29.7 88.8 29.7 88.9 29.7 88.9 29.7 88.9 29.7 88.9 29.7 89 29.7 89 29.7 91 31.7 92 31.2 92 25.3 89.5 25.3 89.5 25.3 89.4 25.3 89.4 25.2 89.4 25.2 89.3 25.2 89.3 25.2 89.3 25.2 89.3 25.2 89.2 25.1 89.2 25.1 89.2 25.1 89.2 25.1 89.2 25 89.2 25 89.2 25 89.2 24.9 89.2 24.9 89.2 24.9 89.9 22 89.9 22 89.9 22 89.9 22 90 21.9 92.1 19.1 93.1 16.4 92.8 14.8 91.1 15.9 91 16 91 16 91 16Z M88.4 37 88.4 46.2 89.6 45.4 90.3 41.7 90.3 41.6 90.3 41.6 90.3 41.6 90.3 41.5 90.3 41.5 91.9 39.6Z M78.3 61.6 77.1 64.2 77.7 68.4 79 71.4 79.8 67.7 79.9 61Z M76.3 199.3 77.3 203.2 78.9 206.4 80.4 204.7 79.3 199.3Z M81.4 235.6 82.9 238 86.6 238.9 88.4 236.8 86.6 234.7Z M85.3 244.3 85.3 245.8 87.1 245.8 87.1 244.3Z M92.1 244.3 92.1 246.5 94.1 246.5 94.1 244.3Z M91.2 248.5 91.2 250.8 93.5 250.8 93.5 248.5Z M122 228.9 122.6 231.3 127.1 231.8 128 229.1 125.8 227.2Z M100.4 120 98.7 122.7 99.1 126 102.3 127.3 105.6 123.9 107 118.5 104.5 117.3Z M99.4 103.2 98.4 104.2 100.5 109 103.2 114.4 104.1 113.9 102.1 108.5Z"/>
<path stroke="none" fill="#fff" fill-opacity="0.9" d="M379.3 229.6 379.6 229.2 380 229.6 379.6 229.9Z M379.2 231.7 379.7 231.2 380.2 231.7 379.7 232.3Z M371.6 215.2 371.9 214.9 372.2 215.2 371.9 215.6Z M384.9 234.9 385.2 234.6 385.5 234.9 385.2 235.2Z M382 231 382.3 230.7 382.7 231 382.3 231.3Z M378.2 222.2 378.8 221.6 379.3 222.2 378.8 222.7Z M379.4 232.3 379.8 231.8 380.3 232.3 379.8 232.7Z M382.1 223 382.5 222.6 382.9 223 382.5 223.4Z M385.4 235.7 385.8 235.3 386.2 235.7 385.8 236.1Z M374.1 214.5 374.4 214.2 374.7 214.5 374.4 214.8Z M383.9 220.1 384.4 219.6 385 220.1 384.4 220.7Z M377.1 203.6 377.5 203.1 378 203.6 377.5 204.1Z M384.3 213.5 384.6 213.2 385 213.5 384.6 213.9Z M375.8 248.6 376.3 248.1 376.9 248.6 376.3 249.1Z"/>
</g>
</defs>
<text transform="translate(815.10,51.20) scale(1,1.055)" font-size="62" xml:space="preserve">ASO</text>
<text transform="translate(1030.90,51.20) scale(1,1.055)" font-size="62" xml:space="preserve">Days</text>
<path transform="translate(1187.58,51.20) scale(62.000)" d="M.355 0L.267 0L.267 -.508L.102 -.508L.102 -.572C.19 -.574 .283 -.612 .298 -.712L.355 -.712Z" fill="#000"/>
<text transform="translate(1221.60,51.20) scale(1,1.055)" font-size="62" xml:space="preserve">5</text>
<text transform="translate(1273.20,51.20) scale(1,1.055)" font-size="62" xml:space="preserve">to</text>
<text transform="translate(1341.30,51.20) scale(1,1.055)" font-size="62" xml:space="preserve">2</text>
<path transform="translate(1376.68,51.20) scale(62.000)" d="M.355 0L.267 0L.267 -.508L.102 -.508L.102 -.572C.19 -.574 .283 -.612 .298 -.712L.355 -.712Z" fill="#000"/>
<g transform="translate(7.6,133.7)">
<g clip-path="url(#cp)">
<path fill="#d2f5ff" d="M72.6 0.7 88.1 12.5 76.9 29.6 67.8 24.2 56.0 41.4 46.9 36.0 34.6 52.9 53.9 65.7 43.2 83.9 32.8 77.7 21.8 95.4 -3.3 77.7 -3.3 45.1 9.5 32.3 26.1 46.5 51.8 13.2 59.8 18.7Z"/>
<path fill="#ffffc8" d="M54.4 252.2 79.7 261.0 102.4 266.7 96.7 307.8 79.0 303.4 75.2 322.4 24.0 304.0 33.5 265.2 49.9 271.1Z"/>
<path fill="#ffffc8" d="M108.1 247.1 124.6 251.3 121.4 268.2 105.0 265.2Z"/>
<path fill="#d2f5ff" d="M227.6 307.2 246.0 308.7 245.3 347.7 226.4 347.7Z"/>
<use href="#map"/>
</g>
<rect x="0" y="0" width="511.2" height="346.4" fill="none" stroke="#000" stroke-width="4.5" stroke-linejoin="round"/>
<text transform="translate(-3.30,-5.70) scale(1,1.055)" font-size="35" xml:space="preserve">Phase </text><path transform="translate(105.66,-5.70) scale(35.000)" d="M.355 0L.267 0L.267 -.508L.102 -.508L.102 -.572C.19 -.574 .283 -.612 .298 -.712L.355 -.712Z" fill="#000"/>
<text transform="translate(361.04,-5.70) scale(1,1.055)" font-size="35" xml:space="preserve">69 events</text>
</g>
<g transform="translate(570.1,133.7)">
<g clip-path="url(#cp)">
<path fill="#ffffc8" d="M65.2 166.5 122.1 185.0 113.9 226.1 51.8 205.3Z"/>
<path fill="#ffffc8" d="M515.9 105.0 476.6 128.1 485.4 147.4 459.8 160.5 474.1 199.2 488.5 193.3 495.3 211.7 515.9 201.7Z"/>
<path fill="#d2f5ff" d="M176.3 261.1 211.2 264.5 210.3 285.1 246.3 287.3 246.1 307.6 264.8 307.6 264.8 327.2 246.1 327.5 245.8 348.3 187.8 348.3 189.0 324.4 170.5 321.9 173.3 293.1Z"/>
<use href="#map"/>
</g>
<rect x="0" y="0" width="511.2" height="346.4" fill="none" stroke="#000" stroke-width="4.5" stroke-linejoin="round"/>
<text transform="translate(-3.30,-5.70) scale(1,1.055)" font-size="35" xml:space="preserve">Phase 2</text>
<text transform="translate(361.04,-5.70) scale(1,1.055)" font-size="35" xml:space="preserve">67 events</text>
</g>
<g transform="translate(1132.6,133.7)">
<g clip-path="url(#cp)">
<path fill="#d2f5ff" d="M-3.2 225.9 11.1 233.3 38.2 246.1 70.3 257.5 66.3 276.8 49.6 271.8 44.6 290.7 23.9 283.2 -3.2 271.1Z"/>
<use href="#map"/>
</g>
<rect x="0" y="0" width="511.2" height="346.4" fill="none" stroke="#000" stroke-width="4.5" stroke-linejoin="round"/>
<text transform="translate(-3.30,-5.70) scale(1,1.055)" font-size="35" xml:space="preserve">Phase 3</text>
<text transform="translate(361.04,-5.70) scale(1,1.055)" font-size="35" xml:space="preserve">47 events</text>
</g>
<g transform="translate(1695.1,133.7)">
<g clip-path="url(#cp)">
<path fill="#ffffc8" d="M65.0 47.9 89.1 61.2 127.6 76.7 121.7 96.0 131.9 99.2 127.0 116.3 89.1 105.6 96.8 86.9 54.3 65.5Z"/>
<path fill="#ffffc8" d="M176.3 261.1 210.9 264.5 210.0 285.1 228.2 286.5 227.7 307.1 246.0 308.1 245.5 348.3 91.6 348.3 97.2 308.1 115.0 311.8 118.2 292.6 153.8 298.7 157.1 279.5 174.9 281.1Z"/>
<use href="#map"/>
</g>
<rect x="0" y="0" width="511.2" height="346.4" fill="none" stroke="#000" stroke-width="4.5" stroke-linejoin="round"/>
<text transform="translate(-3.30,-5.70) scale(1,1.055)" font-size="35" xml:space="preserve">Phase 4</text>
<text transform="translate(361.04,-5.70) scale(1,1.055)" font-size="35" xml:space="preserve">47 events</text>
</g>
<g transform="translate(7.6,587.4)">
<g clip-path="url(#cp)">
<path fill="#ffffc8" d="M264.3 201.8 297.2 200.7 327.6 197.5 329.3 215.9 346.9 215.6 349.3 236.8 350.1 245.6 351.7 256.8 370.2 255.2 372.6 275.3 375.0 294.5 357.3 296.1 358.9 317.0 342.1 321.0 322.8 323.4 323.6 346.7 187.7 346.7 193.7 262.4 212.1 262.1 213.4 242.4 230.6 241.6 231.4 223.1 263.5 223.1Z"/>
<path fill="#ffe132" d="M264.6 244.8 298.0 242.9 299.1 263.2 265.1 264.9Z"/>
<path fill="#d2f5ff" d="M61.7 297.2 114.4 311.7 111.8 330.8 93.4 326.4 90.6 347.6 84.6 347.6 54.7 335.2Z"/>
<path fill="#d2f5ff" d="M459.8 160.0 472.5 154.0 480.3 172.7 467.5 178.7Z"/>
<path fill="#d2f5ff" d="M453.2 185.6 467.5 179.4 474.1 198.7 459.4 205.2Z"/>
<path fill="#d2f5ff" d="M445.1 211.4 459.4 205.4 465.6 224.8 451.2 230.8Z"/>
<path fill="#d2f5ff" d="M435.4 236.8 451.2 231.5 461.2 270.9 444.5 276.9Z"/>
<use href="#map"/>
</g>
<rect x="0" y="0" width="511.2" height="346.4" fill="none" stroke="#000" stroke-width="4.5" stroke-linejoin="round"/>
<text transform="translate(-3.30,-5.70) scale(1,1.055)" font-size="35" xml:space="preserve">Phase 5</text>
<text transform="translate(361.04,-5.70) scale(1,1.055)" font-size="35" xml:space="preserve">6</text><path transform="translate(380.50,-5.70) scale(35.000)" d="M.355 0L.267 0L.267 -.508L.102 -.508L.102 -.572C.19 -.574 .283 -.612 .298 -.712L.355 -.712Z" fill="#000"/><text transform="translate(399.96,-5.70) scale(1,1.055)" font-size="35" xml:space="preserve"> events</text>
</g>
<g transform="translate(570.1,587.4)">
<g clip-path="url(#cp)">
<path fill="#d2f5ff" d="M294.2 179.8 340.0 173.9 369.9 167.6 398.3 160.2 424.8 151.6 431.7 171.0 459.6 160.2 473.8 199.0 430.2 216.6 434.6 236.7 395.9 248.0 362.6 255.6 317.4 261.8 316.0 238.6 297.8 239.6 296.9 220.9 280.7 221.9 280.2 201.8 295.6 200.3Z"/>
<path fill="#a0d2ff" d="M340.0 173.9 369.9 167.6 398.3 160.2 402.7 181.8 417.9 176.4 423.6 196.0 409.1 201.2 413.5 221.0 391.0 227.4 369.9 231.3 348.3 234.9 346.4 216.0 313.5 219.3 312.1 199.4 340.7 196.4Z"/>
<path fill="#ffffc8" d="M471.4 -1.0 515.8 -1.0 515.8 103.9 509.4 103.9 498.7 111.4 489.1 95.3 466.6 108.2 457.0 89.4 446.3 92.7 427.0 57.9 455.4 41.8 443.6 24.2Z"/>
<path fill="#ffe132" d="M455.7 41.6 480.0 22.9 493.6 38.8 501.4 32.0 509.4 42.4 515.8 42.4 515.8 81.4 509.4 81.4 488.9 95.3 478.0 77.6 468.3 81.8 457.4 65.7 466.4 58.8Z"/>
<use href="#map"/>
<path fill="none" stroke="#ff0000" stroke-width="3.6" stroke-linejoin="round" d="M511.0 -1.0 504.6 14.0"/>
</g>
<rect x="0" y="0" width="511.2" height="346.4" fill="none" stroke="#000" stroke-width="4.5" stroke-linejoin="round"/>
<text transform="translate(-3.30,-5.70) scale(1,1.055)" font-size="35" xml:space="preserve">Phase 6</text>
<text transform="translate(361.04,-5.70) scale(1,1.055)" font-size="35" xml:space="preserve">5</text><path transform="translate(380.50,-5.70) scale(35.000)" d="M.355 0L.267 0L.267 -.508L.102 -.508L.102 -.572C.19 -.574 .283 -.612 .298 -.712L.355 -.712Z" fill="#000"/><text transform="translate(399.96,-5.70) scale(1,1.055)" font-size="35" xml:space="preserve"> events</text>
</g>
<g transform="translate(1132.6,587.4)">
<g clip-path="url(#cp)">
<path fill="#a0d2ff" d="M147.4 -1.7 345.6 -1.7 347.4 23.3 340.7 24.5 346.2 42.8 337.4 45.6 341.9 65.6 326.7 69.2 311.4 73.9 309.0 76.3 311.4 91.6 274.2 95.8 236.4 93.4 237.6 73.3 216.9 72.6 195.0 70.0 168.1 65.9 162.6 85.1 116.9 70.8 124.8 51.9 133.4 33.4 124.5 29.4 133.4 11.4 142.8 13.9Z"/>
<path fill="#d2f5ff" d="M114.5 25.7 133.4 33.4 124.8 51.9 105.3 43.4Z"/>
<path fill="#d2f5ff" d="M115.7 47.9 124.8 51.9 116.9 70.8 105.9 66.8Z"/>
<path fill="#d2f5ff" d="M127.3 76.3 138.9 80.0 132.2 98.9 120.6 95.2Z"/>
<path fill="#ffffc8" d="M7.7 296.7 23.6 303.9 16.0 340.6 -2.6 333.3 -2.6 301.4Z"/>
<path fill="#ffffc8" d="M83.1 282.6 100.8 287.2 104.2 267.9 120.9 271.5 119.4 278.4 117.0 297.5 115.0 311.2 79.7 301.4Z"/>
<path fill="#d2f5ff" d="M456.4 335.8 509.7 315.2 513.1 314.0 513.1 334.6 495.2 341.0 495.2 346.5 457.5 346.5Z"/>
<use href="#map"/>
<path fill="none" stroke="#0000f0" stroke-width="2.6" stroke-linejoin="round" d="M221.8 -1.7 C221.6 -1.2 221.5 -0.5 220.8 1.3 C220.1 3.1 218.5 6.3 217.5 9.2 C216.5 12.2 215.3 15.9 214.7 19.0 C214.1 22.0 213.8 24.6 213.9 27.5 C213.9 30.5 214.4 33.6 215.1 36.7 C215.8 39.7 216.6 42.5 218.1 45.8 C219.7 49.1 222.0 53.3 224.2 56.6 C226.5 59.8 228.7 62.7 231.5 65.1 C234.4 67.5 237.2 69.2 241.3 70.8 C245.4 72.4 250.4 73.8 255.9 74.8 C261.4 75.9 268.1 77.1 274.2 77.3 C280.3 77.4 286.4 76.9 292.5 75.8 C298.6 74.8 305.7 72.7 310.8 70.9 C315.9 69.2 319.4 67.5 323.0 65.3 C326.7 63.1 329.9 60.8 332.8 57.8 C335.6 54.7 338.1 50.9 340.1 47.0 C342.1 43.2 343.8 38.9 345.0 34.8 C346.1 30.8 346.7 26.7 346.9 22.6 C347.1 18.6 346.7 14.0 346.2 10.5 C345.7 6.9 344.5 3.3 344.0 1.3 C343.5 -0.7 343.3 -1.2 343.1 -1.7"/>
</g>
<rect x="0" y="0" width="511.2" height="346.4" fill="none" stroke="#000" stroke-width="4.5" stroke-linejoin="round"/>
<text transform="translate(-3.30,-5.70) scale(1,1.055)" font-size="35" xml:space="preserve">Phase 7</text>
<text transform="translate(361.04,-5.70) scale(1,1.055)" font-size="35" xml:space="preserve">38 events</text>
</g>
<g transform="translate(1695.1,587.4)">
<g clip-path="url(#cp)">
<path fill="#d2f5ff" d="M260.1 -1.2 329.5 -1.2 327.4 6.0 293.8 10.4 275.4 13.5 271.2 14.1 272.2 33.7 261.2 33.7Z"/>
<path fill="#d2f5ff" d="M329.5 -1.2 344.8 8.1 348.0 14.6 341.1 22.2 333.2 15.6 327.4 6.0Z"/>
<path fill="#d2f5ff" d="M369.5 14.8 377.4 12.0 382.7 25.1 386.3 29.8 374.8 26.1Z"/>
<path fill="#d2f5ff" d="M386.3 29.8 382.7 25.1 395.8 25.6 402.1 40.9 415.3 39.8 425.8 57.7 404.7 67.2 403.2 61.9 395.8 45.1Z"/>
<path fill="#a0d2ff" d="M275.4 13.5 293.8 10.4 327.4 6.0 333.2 15.6 341.1 22.2 359.0 18.3 369.5 14.8 374.8 26.1 386.3 29.8 395.8 45.1 403.2 61.9 404.7 67.2 360.0 82.4 353.7 63.0 341.1 67.2 296.9 72.6 294.3 52.2 272.2 54.0 271.2 14.1Z"/>
<path fill="#ffffc8" d="M365.9 233.7 398.3 226.9 406.3 266.8 372.1 274.9Z"/>
<path fill="#d2f5ff" d="M506.5 158.2 512.8 156.1 512.8 163.2 508.7 164.5Z"/>
<path fill="#d2f5ff" d="M501.9 184.4 512.8 180.3 512.8 200.0 507.8 201.9Z"/>
<path fill="#d2f5ff" d="M495.9 211.9 512.8 205.0 512.8 249.3 493.4 257.4 487.8 238.7 501.5 231.2Z"/>
<path fill="#d2f5ff" d="M54.8 251.5 70.5 257.3 103.3 266.4 96.5 307.1 93.5 326.2 58.2 316.4 62.2 296.3 45.0 290.4Z"/>
<path fill="#a0d2ff" d="M70.5 257.3 103.3 266.4 96.5 307.1 62.2 296.3Z"/>
<use href="#map"/>
<path fill="none" stroke="#0000f0" stroke-width="2.6" stroke-linejoin="round" d="M329.5 -0.1 C329.0 0.2 328.8 1.3 326.4 2.2 C323.9 3.0 318.2 3.9 314.8 5.1 C311.5 6.3 309.2 7.6 306.4 9.3 C303.6 11.1 300.3 13.6 298.0 15.6 C295.7 17.6 293.4 20.5 292.5 21.4"/>
<path fill="none" stroke="#0000f0" stroke-width="2.6" stroke-linejoin="round" d="M292.5 21.4 C293.1 22.9 294.5 27.2 295.9 30.4 C297.3 33.5 300.3 38.7 301.2 40.3"/>
<path fill="none" stroke="#0000f0" stroke-width="2.6" stroke-linejoin="round" d="M301.2 40.3 C303.4 41.6 309.6 45.0 314.8 47.7 C320.1 50.4 327.6 54.7 332.7 56.6 C337.8 58.6 339.7 58.5 345.3 59.3 C350.9 60.1 359.3 61.3 366.4 61.6 C373.4 61.9 381.3 61.5 387.4 60.9 C393.5 60.2 398.4 59.2 403.2 57.7 C407.9 56.2 412.6 53.8 415.8 51.9 C418.9 50.0 420.7 48.7 422.1 46.1 C423.5 43.6 424.0 39.5 424.2 36.7 C424.4 33.9 423.6 31.5 423.1 29.3 C422.7 27.1 421.8 24.5 421.6 23.5"/>
<path fill="none" stroke="#0000f0" stroke-width="2.6" stroke-linejoin="round" d="M421.6 23.5 C420.6 22.6 418.0 19.9 415.8 17.7 C413.6 15.5 411.2 12.5 408.4 10.4 C405.6 8.3 401.9 6.5 399.0 5.1 C396.0 3.7 392.5 3.0 390.5 2.2 C388.6 1.3 387.9 0.2 387.4 -0.1"/>
</g>
<rect x="0" y="0" width="511.2" height="346.4" fill="none" stroke="#000" stroke-width="4.5" stroke-linejoin="round"/>
<text transform="translate(-3.30,-5.70) scale(1,1.055)" font-size="35" xml:space="preserve">Phase 8</text>
<text transform="translate(361.04,-5.70) scale(1,1.055)" font-size="35" xml:space="preserve">35 events</text>
</g>
<rect x="270.6" y="1021.7" width="98.0" height="44.6" fill="#8421ee" stroke="#000" stroke-width="2"/>
<rect x="368.6" y="1021.7" width="98.0" height="44.6" fill="#000096" stroke="#000" stroke-width="2"/>
<rect x="466.6" y="1021.7" width="98.0" height="44.6" fill="#0000cd" stroke="#000" stroke-width="2"/>
<rect x="564.6" y="1021.7" width="98.0" height="44.6" fill="#1e90ff" stroke="#000" stroke-width="2"/>
<rect x="662.6" y="1021.7" width="98.0" height="44.6" fill="#00bfff" stroke="#000" stroke-width="2"/>
<rect x="760.6" y="1021.7" width="98.0" height="44.6" fill="#a0d2ff" stroke="#000" stroke-width="2"/>
<rect x="858.6" y="1021.7" width="98.0" height="44.6" fill="#d2f5ff" stroke="#000" stroke-width="2"/>
<rect x="956.6" y="1021.7" width="98.0" height="44.6" fill="#ffffc8" stroke="#000" stroke-width="2"/>
<rect x="1054.6" y="1021.7" width="98.0" height="44.6" fill="#ffe132" stroke="#000" stroke-width="2"/>
<rect x="1152.6" y="1021.7" width="98.0" height="44.6" fill="#ffaa00" stroke="#000" stroke-width="2"/>
<rect x="1250.6" y="1021.7" width="98.0" height="44.6" fill="#ff6e00" stroke="#000" stroke-width="2"/>
<rect x="1348.6" y="1021.7" width="98.0" height="44.6" fill="#c80000" stroke="#000" stroke-width="2"/>
<rect x="1446.6" y="1021.7" width="98.0" height="44.6" fill="#a02828" stroke="#000" stroke-width="2"/>
<rect x="1544.6" y="1021.7" width="98.0" height="44.6" fill="#ff69b4" stroke="#000" stroke-width="2"/>
<text transform="translate(346.44,1116.20) scale(1,1.035)" font-size="50.3" xml:space="preserve">-6</text>
<text transform="translate(444.44,1116.20) scale(1,1.035)" font-size="50.3" xml:space="preserve">-5</text>
<text transform="translate(542.44,1116.20) scale(1,1.035)" font-size="50.3" xml:space="preserve">-4</text>
<text transform="translate(640.44,1116.20) scale(1,1.035)" font-size="50.3" xml:space="preserve">-3</text>
<text transform="translate(738.44,1116.20) scale(1,1.035)" font-size="50.3" xml:space="preserve">-2</text>
<text transform="translate(840.14,1116.20) scale(1,1.035)" font-size="50.3" xml:space="preserve">-</text><path transform="translate(856.89,1116.20) scale(50.300)" d="M.355 0L.267 0L.267 -.508L.102 -.508L.102 -.572C.19 -.574 .283 -.612 .298 -.712L.355 -.712Z" fill="#000"/>
<text transform="translate(942.82,1116.20) scale(1,1.035)" font-size="50.3" xml:space="preserve">0</text>
<path transform="translate(1043.12,1116.20) scale(50.300)" d="M.355 0L.267 0L.267 -.508L.102 -.508L.102 -.572C.19 -.574 .283 -.612 .298 -.712L.355 -.712Z" fill="#000"/>
<text transform="translate(1138.82,1116.20) scale(1,1.035)" font-size="50.3" xml:space="preserve">2</text>
<text transform="translate(1236.82,1116.20) scale(1,1.035)" font-size="50.3" xml:space="preserve">3</text>
<text transform="translate(1334.82,1116.20) scale(1,1.035)" font-size="50.3" xml:space="preserve">4</text>
<text transform="translate(1432.82,1116.20) scale(1,1.035)" font-size="50.3" xml:space="preserve">5</text>
<text transform="translate(1530.82,1116.20) scale(1,1.035)" font-size="50.3" xml:space="preserve">6</text>
<text transform="translate(1757.30,1081.80) scale(1,1.020)" font-size="50" xml:space="preserve">degC</text>
</svg></body></html>
